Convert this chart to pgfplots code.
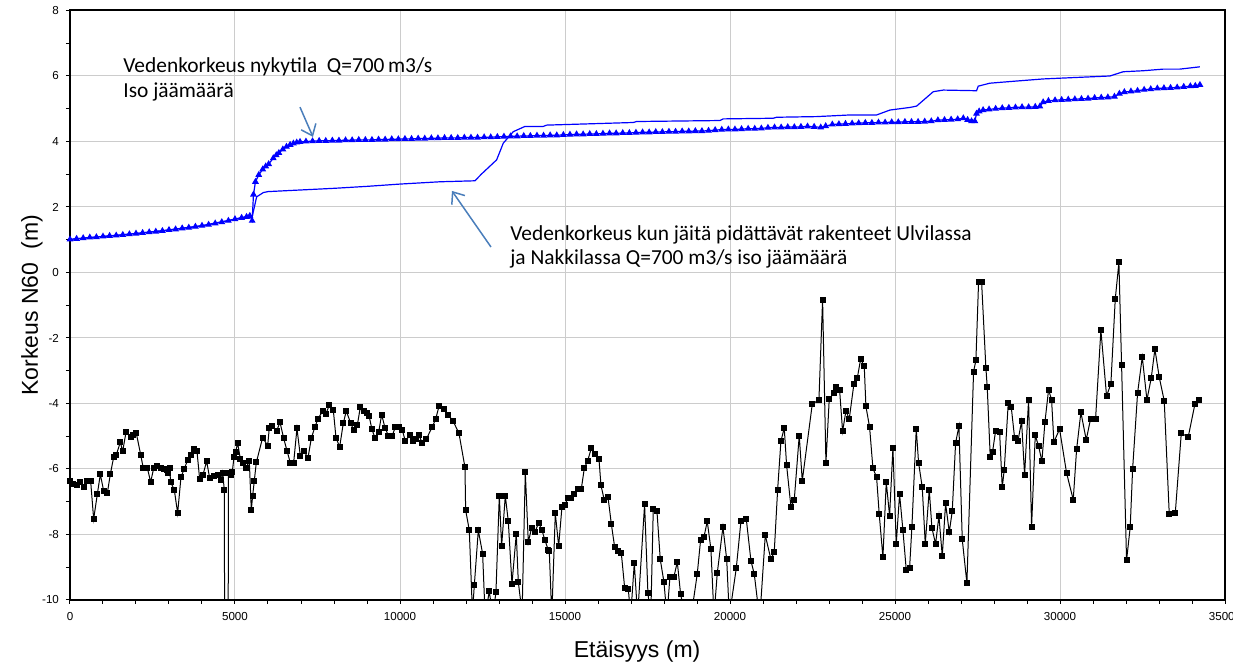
\documentclass[border=0pt]{standalone}
\usepackage{fontspec}
\setmainfont{Liberation Sans}
\newfontfamily\calibri{Carlito}
\usepackage{pgfplots}
\pgfplotsset{compat=1.18}
\usetikzlibrary{arrows.meta}
\definecolor{arrowblue}{HTML}{4A7EBB}

\begin{document}
\begin{tikzpicture}
\begin{axis}[
  scale only axis,
  width=577.5pt, height=294.75pt,
  at={(0,0)}, anchor=south west,
  xmin=0, xmax=35000, ymin=-10, ymax=8,
  xtick distance=5000, ytick distance=2,
  minor x tick num=4, minor y tick num=1,
  scaled x ticks=false,
  /pgf/number format/1000 sep={},
  /pgf/number format/assume math mode=true,
  tick label style={font=\fontsize{5.8}{6}\selectfont, black},
  xtick pos=left, ytick pos=left,
  tick align=outside,
  major tick length=2pt, minor tick length=2pt,
  tick style={black, line width=0.5pt},
  xticklabel style={yshift=-0.5pt},
  grid=major,
  major grid style={gray!40, line width=0.5pt},
  axis line style={black, line width=1pt},
  xlabel={Etäisyys (m)},
  ylabel={Korkeus N60\ \ (m)},
  label style={font=\fontsize{11.5}{12}\selectfont},
  xlabel style={at={(axis description cs:0.491,0)}, anchor=center, yshift=-26pt},
  ylabel style={at={(axis description cs:0,0.5)}, anchor=center, yshift=19pt},
]

% thin line: water level with ice-retaining structures
\addplot[blue, line width=0.6pt] coordinates {
(0,1.01) (1000,1.10) (2000,1.19) (3000,1.30) (4000,1.43) (5000,1.63) (5450,1.73)
(5520,1.70) (5656,2.31) (5858,2.44) (6000,2.47) (7000,2.52) (8000,2.57) (9000,2.63)
(10000,2.70) (11211,2.77) (12271,2.80) (12474,3.01) (12929,3.44) (13130,3.95)
(13433,4.30) (13787,4.46) (14342,4.46) (14443,4.50) (17069,4.58) (17170,4.61)
(19695,4.64) (19796,4.69) (21311,4.71) (21412,4.74) (22624,4.76) (23634,4.81)
(24443,4.81) (24846,4.96) (25452,5.04) (25654,5.08) (26159,5.52) (26462,5.57)
(27472,5.55) (27522,5.69) (27876,5.78) (28482,5.83) (29493,5.91) (30603,5.96)
(31512,6.00) (31916,6.13) (32522,6.16) (33128,6.21) (33633,6.21) (34239,6.28)
};

% triangles: present state water level
\addplot[blue, line width=0.6pt, mark=triangle*, mark size=1.4pt] coordinates {
(0,1.01) (200,1.03) (400,1.05) (600,1.07) (800,1.08) (1000,1.10) (1200,1.12)
(1400,1.13) (1600,1.15) (1800,1.17) (2000,1.19) (2200,1.21) (2400,1.23) (2600,1.25)
(2800,1.27) (3000,1.30) (3200,1.32) (3400,1.35) (3600,1.37) (3800,1.40) (4000,1.43)
(4200,1.46) (4400,1.50) (4600,1.54) (4800,1.58) (5000,1.63) (5200,1.67) (5350,1.70)
(5450,1.73) (5520,1.58) (5560,2.38) (5620,2.77) (5720,2.98) (5840,3.15) (5930,3.24)
(6020,3.31) (6160,3.49) (6250,3.58) (6330,3.65) (6450,3.76) (6560,3.84) (6670,3.90)
(6770,3.94) (6870,3.97) (6970,3.99) (7150,4.00) (7350,4.01) (7550,4.02) (7750,4.02)
(7950,4.03) (8150,4.03) (8350,4.04) (8550,4.04) (8750,4.05) (8950,4.05) (9150,4.05)
(9350,4.06) (9550,4.06) (9750,4.07) (9950,4.07) (10150,4.08) (10350,4.08) (10550,4.09)
(10750,4.09) (10950,4.10) (11150,4.10) (11350,4.11) (11550,4.11) (11750,4.11)
(11950,4.12) (12150,4.12) (12350,4.12) (12550,4.13) (12750,4.13) (12950,4.14)
(13150,4.15) (13350,4.16) (13550,4.16) (13750,4.17) (13950,4.17) (14150,4.18)
(14350,4.18) (14550,4.19) (14750,4.19) (14950,4.20) (15150,4.21) (15350,4.22)
(15550,4.22) (15750,4.23) (15950,4.23) (16150,4.24) (16350,4.25) (16550,4.25)
(16750,4.26) (16950,4.26) (17150,4.27) (17350,4.28) (17550,4.28) (17750,4.29)
(17950,4.29) (18150,4.30) (18350,4.30) (18550,4.31) (18750,4.31) (18950,4.32)
(19150,4.32) (19350,4.33) (19550,4.35) (19750,4.36) (19950,4.37) (20150,4.37)
(20350,4.38) (20550,4.39) (20750,4.39) (20950,4.40) (21150,4.42) (21350,4.43)
(21550,4.43) (21750,4.44) (21950,4.44) (22150,4.45) (22350,4.46) (22550,4.45)
(22750,4.43) (22900,4.47) (23100,4.52) (23300,4.53) (23500,4.54) (23700,4.55)
(23900,4.56) (24100,4.57) (24300,4.57) (24500,4.58) (24700,4.58) (24900,4.59)
(25100,4.59) (25300,4.60) (25500,4.60) (25700,4.60) (25900,4.61) (26100,4.62)
(26300,4.65) (26500,4.66) (26700,4.67) (26900,4.68) (27070,4.71) (27200,4.66)
(27320,4.62) (27420,4.62) (27470,4.85) (27550,4.92) (27670,4.96) (27850,4.98)
(28050,5.00) (28250,5.02) (28450,5.03) (28650,5.04) (28850,5.05) (29050,5.05)
(29250,5.06) (29390,5.07) (29490,5.20) (29650,5.24) (29850,5.26) (30050,5.27)
(30250,5.28) (30450,5.29) (30650,5.30) (30850,5.31) (31050,5.33) (31250,5.34)
(31450,5.35) (31650,5.37) (31800,5.46) (31950,5.51) (32150,5.53) (32350,5.55)
(32550,5.58) (32750,5.60) (32950,5.62) (33150,5.63) (33350,5.64) (33550,5.65)
(33750,5.67) (33950,5.69) (34100,5.70) (34240,5.73)
};

% squares: river bed profile
\addplot[black, line width=0.5pt, mark=square*, mark size=1.25pt] coordinates {
(0,-6.37) (101,-6.47) (222,-6.50) (313,-6.41) (424,-6.54) (515,-6.37) (626,-6.37)
(717,-7.53) (828,-6.77) (919,-6.16) (1020,-6.67) (1131,-6.74) (1222,-6.16)
(1323,-5.64) (1403,-5.57) (1525,-5.18) (1596,-5.46) (1697,-4.88) (1838,-5.01)
(1919,-4.95) (2010,-4.91) (2141,-5.56) (2222,-5.98) (2343,-5.96) (2444,-6.40)
(2535,-5.98) (2646,-5.91) (2757,-5.96) (2838,-5.99) (2939,-6.03) (2969,-6.13)
(3020,-5.98) (3050,-6.40) (3161,-6.64) (3262,-7.35) (3363,-6.25) (3464,-5.99)
(3565,-5.73) (3666,-5.57) (3757,-5.40) (3848,-5.46) (3929,-6.31) (4030,-6.18)
(4141,-5.76) (4232,-6.28) (4363,-6.20) (4474,-6.18) (4575,-6.34) (4626,-6.11)
(4676,-6.64) (4730,-30) (4780,-30) (4798,-6.13) (4878,-6.18) (4919,-6.08)
(4969,-5.64) (5020,-5.47) (5081,-5.21) (5161,-5.69) (5252,-5.83) (5323,-5.98)
(5434,-5.76) (5494,-7.25) (5535,-6.82) (5585,-6.36) (5646,-5.80) (5838,-5.04)
(5990,-5.29) (6040,-4.74) (6131,-4.69) (6262,-4.84) (6363,-4.57) (6474,-5.06)
(6575,-5.44) (6676,-5.81) (6777,-5.81) (6878,-4.76) (6979,-5.60) (7100,-5.46)
(7211,-5.67) (7312,-5.06) (7424,-4.71) (7514,-4.47) (7656,-4.23) (7757,-4.31)
(7858,-4.05) (7979,-4.20) (8060,-5.04) (8171,-5.33) (8282,-4.60) (8373,-4.23)
(8504,-4.60) (8605,-4.82) (8706,-4.67) (8797,-4.11) (8908,-4.22) (8989,-4.30)
(9060,-4.37) (9151,-4.79) (9242,-5.05) (9353,-4.88) (9444,-4.34) (9545,-4.74)
(9646,-4.98) (9767,-4.98) (9858,-4.72) (9969,-4.72) (10070,-4.81) (10161,-5.15)
(10302,-4.96) (10403,-5.15) (10494,-5.07) (10575,-4.97) (10676,-5.21) (10797,-5.09)
(10979,-4.71) (11080,-4.48) (11181,-4.09) (11342,-4.17) (11464,-4.35) (11605,-4.53)
(11787,-4.91) (11969,-5.95) (11989,-7.25) (12100,-7.87) (12195,-10.4) (12252,-9.55)
(12373,-7.87) (12504,-8.59) (12580,-10.5) (12706,-9.73) (12810,-10.5) (12908,-9.76)
(13009,-6.82) (13080,-8.35) (13191,-6.82) (13282,-7.60) (13393,-9.51) (13524,-7.98)
(13585,-9.45) (13700,-10.4) (13797,-6.09) (13888,-8.24) (13989,-7.79) (14090,-7.93)
(14201,-7.64) (14302,-7.87) (14393,-8.18) (14494,-8.47) (14524,-8.51) (14600,-10.5)
(14706,-7.35) (14808,-8.35) (14908,-7.16) (15009,-7.11) (15080,-6.89) (15181,-6.88)
(15282,-6.76) (15383,-6.61) (15494,-6.61) (15585,-5.98) (15686,-5.75) (15797,-5.37)
(15898,-5.53) (16030,-5.70) (16090,-6.50) (16191,-6.95) (16302,-6.85) (16403,-7.67)
(16504,-8.38) (16605,-8.51) (16706,-8.56) (16807,-9.62) (16918,-9.66) (16990,-10.5)
(17100,-8.87) (17200,-10.5) (17412,-7.08) (17513,-9.80) (17600,-10.5) (17675,-7.22)
(17786,-7.28) (17887,-8.76) (17998,-9.45) (18090,-10.5) (18180,-9.29) (18301,-9.29)
(18403,-8.84) (18504,-9.83) (18750,-11) (19007,-9.21) (19108,-8.18) (19210,-8.08)
(19311,-7.60) (19422,-8.45) (19515,-10.5) (19614,-9.18) (19786,-7.77) (19900,-8.76)
(19980,-10.5) (20190,-9.03) (20331,-7.60) (20493,-7.52) (20634,-8.80) (20736,-9.21)
(20900,-10.6) (21069,-8.02) (21240,-8.76) (21341,-8.53) (21443,-6.64) (21543,-5.15)
(21644,-4.75) (21715,-5.88) (21846,-7.15) (21947,-6.95) (22098,-4.98) (22190,-6.36)
(22493,-4.02) (22695,-3.89) (22806,-0.83) (22907,-5.82) (23008,-3.85) (23149,-3.69)
(23220,-3.49) (23321,-3.58) (23412,-4.85) (23513,-4.23) (23614,-4.47) (23755,-3.40)
(23856,-3.23) (23958,-2.65) (24068,-2.85) (24119,-4.09) (24230,-4.72) (24331,-5.98)
(24442,-6.25) (24522,-7.38) (24634,-8.70) (24735,-6.40) (24836,-7.43) (24937,-5.36)
(25038,-8.29) (25139,-6.77) (25240,-7.87) (25341,-9.08) (25442,-9.03) (25513,-7.76)
(25644,-4.78) (25715,-5.81) (25826,-6.56) (25917,-8.29) (26038,-6.63) (26119,-7.80)
(26230,-8.29) (26331,-7.43) (26432,-8.66) (26533,-7.05) (26644,-7.93) (26735,-7.29)
(26836,-5.21) (26937,-4.69) (27038,-8.15) (27179,-9.49) (27381,-3.03) (27452,-2.68)
(27533,-0.28) (27624,-0.28) (27755,-2.92) (27795,-3.50) (27886,-5.63) (27957,-5.47)
(28048,-4.84) (28170,-4.88) (28250,-6.56) (28311,-6.02) (28432,-3.98) (28523,-4.11)
(28624,-5.05) (28725,-5.15) (28836,-4.54) (28927,-6.19) (29048,-3.89) (29139,-7.77)
(29250,-4.97) (29351,-5.30) (29452,-5.76) (29543,-4.57) (29654,-3.58) (29745,-3.89)
(29815,-5.18) (29987,-4.78) (30199,-6.12) (30401,-6.94) (30503,-5.40) (30633,-4.27)
(30795,-5.11) (30926,-4.47) (31078,-4.47) (31239,-1.76) (31411,-3.77) (31542,-3.40)
(31674,-0.82) (31785,0.31) (31866,-2.82) (32017,-8.79) (32128,-7.77) (32200,-6.01)
(32351,-3.68) (32493,-2.58) (32634,-3.89) (32765,-3.22) (32876,-2.34) (33008,-3.20)
(33159,-3.92) (33311,-7.38) (33493,-7.35) (33675,-4.91) (33886,-5.02) (34088,-4.02)
(34219,-3.89)
};

% annotations
\node[anchor=base west, inner sep=0pt, font=\calibri\fontsize{10.7}{12}\selectfont]
  at (axis cs:1606,6.10) {Vedenkorkeus nykytila\ \ Q=700\,m3/s};
\node[anchor=base west, inner sep=0pt, font=\calibri\fontsize{10.7}{12}\selectfont]
  at (axis cs:1606,5.33) {Iso jäämäärä};
\draw[arrowblue, line width=0.75pt, -{Straight Barb[length=5pt,width=8pt]}]
  (axis cs:6969,5.05) -- (axis cs:7363,4.14);

\node[anchor=base west, inner sep=0pt, font=\calibri\fontsize{10.7}{12}\selectfont]
  at (axis cs:13332,0.99) {Vedenkorkeus kun jäitä pidättävät rakenteet Ulvilassa};
\node[anchor=base west, inner sep=0pt, font=\calibri\fontsize{10.7}{12}\selectfont]
  at (axis cs:13332,0.23) {ja Nakkilassa Q=700 m3/s iso jäämäärä};
\draw[arrowblue, line width=0.75pt, -{Straight Barb[length=5pt,width=8pt]}]
  (axis cs:12756,0.78) -- (axis cs:11575,2.49);
\end{axis}
\pgfresetboundingbox
\useasboundingbox (-35pt,-32.5pt) rectangle (581.5pt,300pt);
\end{tikzpicture}
\end{document}
